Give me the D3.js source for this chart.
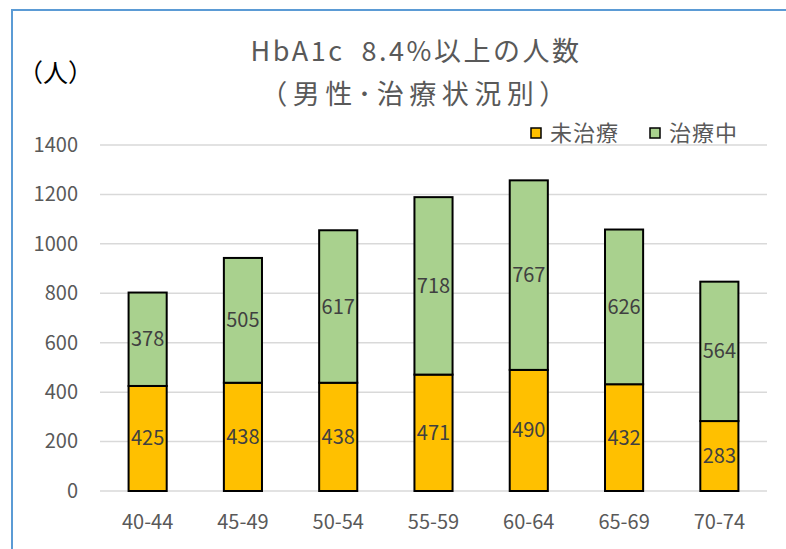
<!DOCTYPE html>
<html>
<head>
<meta charset="utf-8">
<script src="https://cdn.jsdelivr.net/npm/d3@7"></script>
<style>
  body { margin: 0; background: #fff; }
  text { font-family: "Noto Sans CJK JP", "Noto Sans", sans-serif; }
</style>
</head>
<body>
<svg width="786" height="549"></svg>
<script>
// age groups and the two stacked series (people, HbA1c >= 8.4%, men)
var ageGroups = ["40-44", "45-49", "50-54", "55-59", "60-64", "65-69", "70-74"];
var untreated = [425, 438, 438, 471, 490, 432, 283];
var treated = [378, 505, 617, 718, 767, 626, 564];
var yTicks = [0, 200, 400, 600, 800, 1000, 1200, 1400];
var seriesNames = ["未治療", "治療中"];
var seriesColors = ["#FFC000", "#A9D18E"];

var svg = d3.select("svg");

// chart frame (only the top and left edges show in the picture)
svg.append("line").attr("x1", 11).attr("x2", 786).attr("y1", 10).attr("y2", 10)
  .attr("stroke", "#5B9BD5").attr("stroke-width", 2);
svg.append("line").attr("x1", 12).attr("x2", 12).attr("y1", 9).attr("y2", 549)
  .attr("stroke", "#5B9BD5").attr("stroke-width", 2);

var x = d3.scaleBand().domain(ageGroups).range([100, 767]).paddingInner(0.6).paddingOuter(0.3);
var y = d3.scaleLinear().domain([0, 1400]).range([491, 145]);

// gridlines
svg.append("g").selectAll("line").data(yTicks).enter().append("line")
  .attr("x1", 100).attr("x2", 767)
  .attr("y1", function (d) { return y(d); }).attr("y2", function (d) { return y(d); })
  .attr("stroke", "#D9D9D9").attr("stroke-width", 1.5);

// y axis labels
var yAxis = svg.append("g").attr("transform", "translate(100,0)")
  .call(d3.axisLeft(y).tickValues(yTicks).tickSize(0).tickPadding(22).tickFormat(d3.format("d")));
yAxis.select(".domain").remove();
yAxis.selectAll("text").attr("fill", "#595959").style("font-size", "20px");

// x axis labels
var xAxis = svg.append("g").attr("transform", "translate(0,491)")
  .call(d3.axisBottom(x).tickSize(0).tickPadding(24));
xAxis.select(".domain").remove();
xAxis.selectAll("text").attr("fill", "#595959").style("font-size", "20px");

// stacked bars
var rows = ageGroups.map(function (g, i) { return { group: g, untreated: untreated[i], treated: treated[i] }; });
var stack = d3.stack().keys(["untreated", "treated"])(rows);

var layers = svg.selectAll(".layer").data(stack).enter().append("g")
  .attr("class", "layer")
  .attr("fill", function (d, i) { return seriesColors[i]; });

layers.selectAll("rect").data(function (d) { return d; }).enter().append("rect")
  .attr("x", function (d) { return x(d.data.group); })
  .attr("width", x.bandwidth())
  .attr("y", function (d) { return y(d[1]); })
  .attr("height", function (d) { return y(d[0]) - y(d[1]); })
  .attr("stroke", "#000").attr("stroke-width", 2);

layers.selectAll("text").data(function (d) { return d; }).enter().append("text")
  .attr("x", function (d) { return x(d.data.group) + x.bandwidth() / 2; })
  .attr("y", function (d) { return (y(d[0]) + y(d[1])) / 2; })
  .attr("text-anchor", "middle").attr("dy", "0.35em")
  .attr("fill", "#404040").style("font-size", "20px")
  .text(function (d) { return d[1] - d[0]; });

// titles
svg.append("text").attr("x", 416).attr("y", 61).attr("text-anchor", "middle")
  .attr("fill", "#595959").style("font-size", "27px").style("letter-spacing", "2.5px")
  .text("HbA1c\u00a0\u00a08.4%以上の人数");
svg.append("text").attr("x", 416).attr("y", 104).attr("text-anchor", "middle")
  .attr("fill", "#595959").style("font-size", "27px").style("letter-spacing", "5.5px")
  .text("（男性･治療状況別）");
svg.append("text").attr("x", 18).attr("y", 82)
  .attr("fill", "#000").style("font-size", "25px").text("（人）");

// legend
var legendX = [531, 650];
var legend = svg.selectAll(".legend").data(seriesNames).enter().append("g")
  .attr("class", "legend")
  .attr("transform", function (d, i) { return "translate(" + legendX[i] + ",128)"; });
legend.append("rect").attr("width", 10).attr("height", 10)
  .attr("fill", function (d, i) { return seriesColors[i]; })
  .attr("stroke", "#000").attr("stroke-width", 1.5);
legend.append("text").attr("x", 19).attr("y", 5).attr("dy", "0.35em")
  .attr("fill", "#595959").style("font-size", "22px").style("letter-spacing", "1px")
  .text(function (d) { return d; });
</script>
</body>
</html>
